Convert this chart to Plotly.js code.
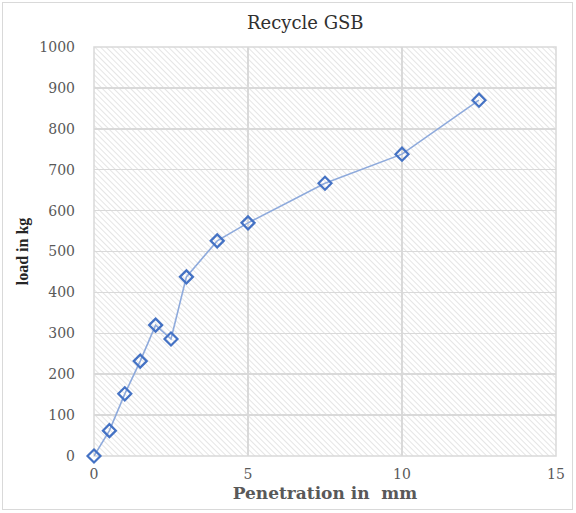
<!DOCTYPE html>
<html>
<head>
<meta charset="utf-8">
<script src="https://cdn.plot.ly/plotly-3.0.1.min.js"></script>
<style>
  html, body { margin: 0; padding: 0; background: #ffffff; }
  #wrap { position: relative; width: 576px; height: 513px; }
  #chart { position: absolute; left: 0; top: 0; width: 576px; height: 513px; }
  #frame { position: absolute; left: 2px; top: 2px; width: 569px; height: 506px;
           border: 1.5px solid #d9d9d9; pointer-events: none; }
</style>
</head>
<body>
<div id="wrap">
  <div id="chart"></div>
  <div id="frame"></div>
</div>
<script>
// Data
const penetration = [0, 0.5, 1, 1.5, 2, 2.5, 3, 4, 5, 7.5, 10, 12.5];
const load = [0, 62, 152, 232, 320, 286, 438, 526, 570, 667, 738, 870];
const chartTitle = "Recycle GSB";
const xTitle = "Penetration in  mm";
const yTitle = "load in kg";

const hatchSvg = "<svg xmlns='http://www.w3.org/2000/svg' width='462' height='409'>" +
  "<defs><pattern id='p' width='4' height='4' patternUnits='userSpaceOnUse' patternTransform='rotate(-45)'>" +
  "<line x1='0' y1='0' x2='0' y2='4' stroke='#d4d4d4' stroke-width='1.2'/></pattern></defs>" +
  "<rect width='100%' height='100%' fill='url(#p)'/></svg>";
const hatchUri = "data:image/svg+xml;charset=utf-8," + encodeURIComponent(hatchSvg);

const trace = {
  x: penetration,
  y: load,
  type: "scatter",
  mode: "lines+markers",
  line: { color: "#8eaadc", width: 1.6 },
  marker: { symbol: "diamond-open", size: 10, color: "#4472c4", line: { width: 2.2, color: "#4472c4" } },
  showlegend: false,
  cliponaxis: false
};

const tickFont = { family: "DejaVu Serif", size: 14, color: "#595959" };

const layout = {
  width: 576,
  height: 513,
  margin: { l: 94, r: 20, t: 47, b: 57 },
  paper_bgcolor: "rgba(0,0,0,0)",
  plot_bgcolor: "rgba(0,0,0,0)",
  title: {
    text: chartTitle,
    font: { family: "DejaVu Serif", size: 18, color: "#303030" },
    x: 0.53, xanchor: "center", y: 0.955, yanchor: "middle"
  },
  xaxis: {
    range: [0, 15],
    tickvals: [0, 5, 10, 15],
    showgrid: true, gridcolor: "#d9d9d9", gridwidth: 1.5,
    zeroline: false,
    showline: false,
    ticks: "", ticklabelstandoff: 8,
    tickfont: tickFont,
    automargin: false,
    title: { text: xTitle, font: { family: "DejaVu Serif", size: 17, color: "#595959", weight: "bold" }, standoff: 6 }
  },
  yaxis: {
    range: [0, 1000],
    tickvals: [0, 100, 200, 300, 400, 500, 600, 700, 800, 900, 1000],
    showgrid: true, gridcolor: "#d9d9d9", gridwidth: 1.5,
    zeroline: false,
    showline: false,
    ticks: "", ticklabelstandoff: 18,
    tickfont: tickFont,
    automargin: false,
    title: { text: yTitle, font: { family: "Liberation Serif", size: 16, color: "#262626", weight: "bold" }, standoff: 6 }
  },
  shapes: [
    { type: "rect", xref: "paper", yref: "paper", x0: 0, x1: 1, y0: 0, y1: 1,
      line: { color: "#d9d9d9", width: 1.5 }, fillcolor: "rgba(0,0,0,0)", layer: "below" }
  ],
  images: [
    { source: hatchUri, xref: "paper", yref: "paper", x: 0, y: 1, sizex: 1, sizey: 1,
      xanchor: "left", yanchor: "top", sizing: "stretch", layer: "below" }
  ]
};

Plotly.newPlot("chart", [trace], layout, { staticPlot: true, displayModeBar: false });
</script>
</body>
</html>
